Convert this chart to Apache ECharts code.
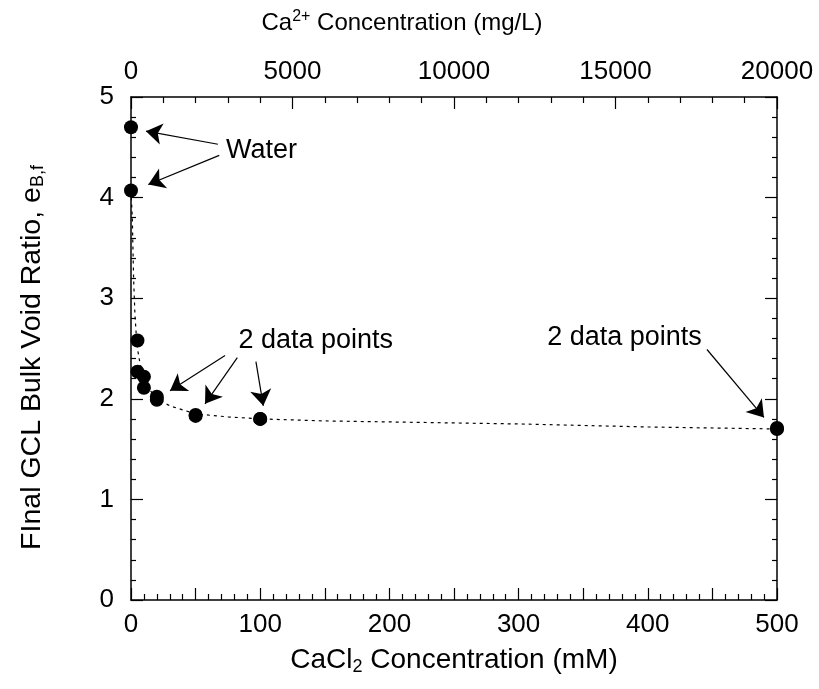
<!DOCTYPE html>
<html>
<head>
<meta charset="utf-8">
<script src="https://cdn.jsdelivr.net/npm/echarts@6/dist/echarts.min.js"></script>
<style>html,body{margin:0;padding:0;background:#fff;}#c{width:819px;height:689px;}</style>
</head>
<body>
<div id="c"></div>
<script>
// Measured data (CaCl2 concentration in mM, final bulk void ratio)
const cacl2_mM  = [0, 0, 5, 5, 10, 10, 20, 20, 50, 50, 100, 100, 500, 500];
const voidRatio = [4.70, 4.07, 2.58, 2.27, 2.22, 2.11, 2.02, 1.99, 1.84, 1.83, 1.80, 1.80, 1.71, 1.70];

// Dotted trend curve
const trendX = [0, 1, 2, 3, 4, 5, 7, 10, 15, 20, 30, 50, 75, 100, 150, 200, 300, 400, 500];
const trendY = [4.07, 3.80, 3.20, 2.85, 2.65, 2.50, 2.35, 2.22, 2.08, 2.00, 1.93, 1.85, 1.82, 1.80, 1.78, 1.77, 1.75, 1.72, 1.70];

// Tick labels
const bottomTicks = [0, 100, 200, 300, 400, 500];
const topTicks = [0, 5000, 10000, 15000, 20000];
const leftTicks = [0, 1, 2, 3, 4, 5];

// Annotations (data coordinates)
const annoTexts = ['Water', '2 data points', '2 data points'];
const annoX = [101, 143, 382];
const annoY = [4.47, 2.58, 2.61];
const arrowStartX = [67.3, 68.3, 72.8, 82.3, 96.7, 445.8];
const arrowStartY = [4.53, 4.42, 2.43, 2.41, 2.37, 2.49];
const arrowEndX   = [11.6, 13.4, 30.2, 57.3, 102.4, 489.9];
const arrowEndY   = [4.66, 4.13, 2.08, 1.95, 1.93, 1.815];

const FONT = '"Liberation Sans", Arial, sans-serif';
const black = '#000';

const chart = echarts.init(document.getElementById('c'), null, {renderer: 'canvas'});

const scatterData = cacl2_mM.map((x, i) => [x, voidRatio[i]]);
const trendData = trendX.map((x, i) => [x, trendY[i]]);
const arrows = arrowStartX.map((x, i) => [
  {coord: [x, arrowStartY[i]]},
  {coord: [arrowEndX[i], arrowEndY[i]]}
]);
const labels = annoTexts.map((t, i) => ({coord: [annoX[i], annoY[i]], value: t}));

const tickLine = {color: black, width: 1.2};
const axisLineStyle = {show: true, onZero: false, lineStyle: {color: black, width: 1.5}};

chart.setOption({
  backgroundColor: '#fff',
  animation: false,
  grid: {left: 131, right: 42, top: 97, bottom: 89, containLabel: false},
  xAxis: [
    {
      type: 'value', position: 'bottom', min: 0, max: 500, interval: 50,
      name: 'CaCl{s|2} Concentration (mM)', nameLocation: 'middle', nameGap: 44,
      nameTextStyle: {color: black, fontSize: 28, fontFamily: FONT,
        rich: {s: {fontSize: 18, fontFamily: FONT, color: black, verticalAlign: 'bottom', padding: [14, 0, 0, 0]}}},
      axisLine: axisLineStyle,
      axisTick: {show: true, inside: true, length: 12, lineStyle: tickLine},
      minorTick: {show: true, splitNumber: 5, length: 6, lineStyle: tickLine},
      axisLabel: {color: black, fontSize: 26, fontFamily: FONT, margin: 12,
        formatter: v => bottomTicks.indexOf(v) >= 0 ? String(v) : ''},
      splitLine: {show: false}
    },
    {
      type: 'value', position: 'top', min: 0, max: 20000, interval: 5000,
      name: 'Ca{p|2+} Concentration (mg/L)', nameLocation: 'middle', nameGap: 60,
      nameTextStyle: {color: black, fontSize: 24, fontFamily: FONT, padding: [0, 104, 0, 0],
        rich: {p: {fontSize: 16, fontFamily: FONT, color: black, verticalAlign: 'top', padding: [0, 0, 12, 0]}}},
      axisLine: axisLineStyle,
      axisTick: {show: true, inside: true, length: 12, lineStyle: tickLine},
      minorTick: {show: true, splitNumber: 5, length: 6, lineStyle: tickLine},
      axisLabel: {color: black, fontSize: 26, fontFamily: FONT, margin: 12,
        formatter: v => topTicks.indexOf(v) >= 0 ? String(v) : ''},
      splitLine: {show: false}
    }
  ],
  yAxis: [
    {
      type: 'value', position: 'left', min: 0, max: 5, interval: 1,
      name: 'FInal GCL Bulk Void Ratio, e{s|B,f}', nameLocation: 'middle', nameGap: 84, nameRotate: 90,
      nameTextStyle: {color: black, fontSize: 28.5, fontFamily: FONT, padding: [0, 18, 0, 0],
        rich: {s: {fontSize: 18, fontFamily: FONT, color: black, verticalAlign: 'bottom', padding: [12, 0, 0, 0]}}},
      axisLine: axisLineStyle,
      axisTick: {show: true, inside: true, length: 12, lineStyle: tickLine},
      minorTick: {show: true, splitNumber: 5, length: 5, lineStyle: tickLine},
      axisLabel: {color: black, fontSize: 26, fontFamily: FONT, margin: 17, padding: [0, 0, 14, 0],
        formatter: v => leftTicks.indexOf(v) >= 0 ? String(v) : ''},
      splitLine: {show: false}
    },
    {
      type: 'value', position: 'right', min: 0, max: 5, interval: 1,
      axisLine: axisLineStyle,
      axisTick: {show: true, inside: true, length: 12, lineStyle: tickLine},
      minorTick: {show: true, splitNumber: 5, length: 5, lineStyle: tickLine},
      axisLabel: {show: false},
      splitLine: {show: false}
    }
  ],
  series: [
    {
      type: 'line', xAxisIndex: 0, yAxisIndex: 0, data: trendData,
      showSymbol: false, symbol: 'none', smooth: false, silent: true,
      lineStyle: {color: black, width: 1.2, type: [3, 4]},
      markLine: {
        silent: true, symbol: ['none', 'arrow'], symbolSize: 16,
        lineStyle: {color: black, width: 1.2, type: 'solid'},
        label: {show: false}, data: arrows
      },
      markPoint: {
        silent: true, symbol: 'rect', symbolSize: 1, itemStyle: {color: 'rgba(0,0,0,0)'},
        label: {show: true, position: 'inside', color: black, fontSize: 27, fontFamily: FONT,
          formatter: p => p.value},
        data: labels
      }
    },
    {
      type: 'scatter', xAxisIndex: 0, yAxisIndex: 0, data: scatterData,
      symbol: 'circle', symbolSize: 14, itemStyle: {color: black, opacity: 1}
    }
  ]
});
</script>
</body>
</html>
